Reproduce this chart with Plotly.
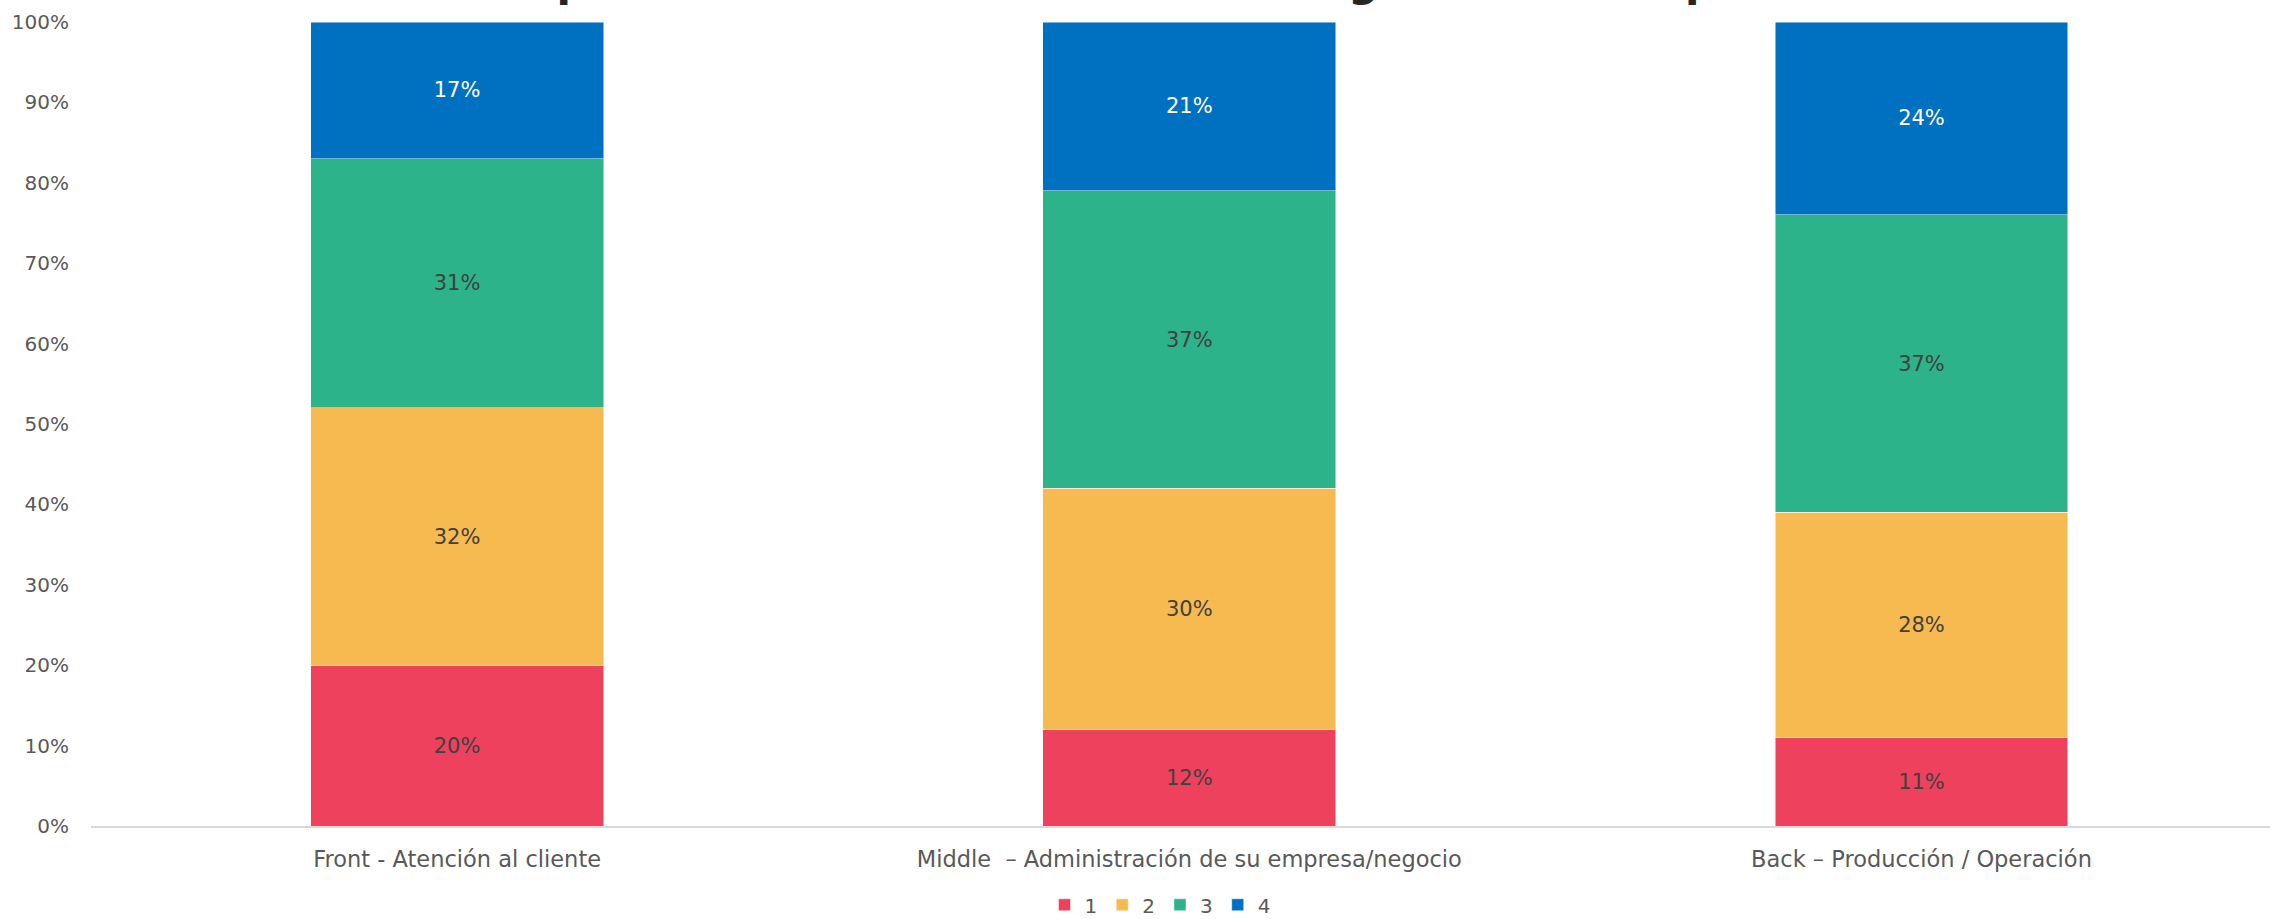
import plotly.graph_objects as go

# Categories (value-chain stage) and the share of answers for each rating 1-4
categories = [
    "Front - Atención al cliente",
    "Middle  – Administración de su empresa/negocio",
    "Back – Producción / Operación",
]
series_names = ["1", "2", "3", "4"]
share_1 = [0.20, 0.12, 0.11]
share_2 = [0.32, 0.30, 0.28]
share_3 = [0.31, 0.37, 0.37]
share_4 = [0.17, 0.21, 0.24]
y_tick_values = [0, 0.1, 0.2, 0.3, 0.4, 0.5, 0.6, 0.7, 0.8, 0.9, 1.0]
y_tick_labels = ["0%", "10%", "20%", "30%", "40%", "50%", "60%", "70%", "80%", "90%", "100%"]
title_text = "Importancia de la transformación digital en su empresa"

colors = ["#EE415E", "#F6BA50", "#2CB389", "#0070C0"]
label_colors = ["#404040", "#404040", "#404040", "#FFFFFF"]
FONT = "DejaVu Sans"

fig = go.Figure()
for name, values, color, lab_color in zip(
    series_names, [share_1, share_2, share_3, share_4], colors, label_colors
):
    fig.add_trace(
        go.Bar(
            name=name,
            x=categories,
            y=values,
            marker=dict(color=color, line=dict(color="rgba(255,255,255,0.6)", width=0.8)),
            text=[f"{round(v * 100)}%" for v in values],
            textposition="inside",
            insidetextanchor="middle",
            textangle=0,
            textfont=dict(family=FONT, size=21, color=lab_color),
            hoverinfo="skip",
        )
    )

fig.update_layout(
    barmode="stack",
    bargap=0.6,
    width=2270,
    height=919,
    margin=dict(l=91, r=0, t=22, b=93, autoexpand=False),
    paper_bgcolor="white",
    plot_bgcolor="white",
    font=dict(family=FONT, size=20, color="#595959"),
    showlegend=True,
    legend=dict(
        orientation="h",
        x=0.4906,
        xanchor="center",
        yref="container",
        y=0.0155,
        yanchor="middle",
        font=dict(family=FONT, size=20, color="#595959"),
        itemwidth=30,
        traceorder="normal",
    ),
)

fig.update_xaxes(
    range=[-0.5, 2.476],
    showgrid=False,
    showline=True,
    linecolor="#D9D9D9",
    linewidth=1.5,
    ticks="",
    ticklabelstandoff=12,
    tickfont=dict(family=FONT, size=22.5, color="#595959"),
)
fig.update_yaxes(
    range=[0, 1],
    tickvals=y_tick_values,
    ticktext=y_tick_labels,
    showgrid=False,
    zeroline=False,
    showline=False,
    ticks="",
    ticklabelstandoff=21,
    tickfont=dict(family=FONT, size=20, color="#595959"),
)

# Chart title, sitting at the very top edge of the page
fig.add_annotation(
    text=f"<b>{title_text}</b>",
    xref="paper",
    yref="paper",
    x=0.4895,
    y=1.0174,
    xanchor="center",
    yanchor="bottom",
    showarrow=False,
    font=dict(family=FONT, size=42, color="#262626"),
)

fig.write_html("out.html")
